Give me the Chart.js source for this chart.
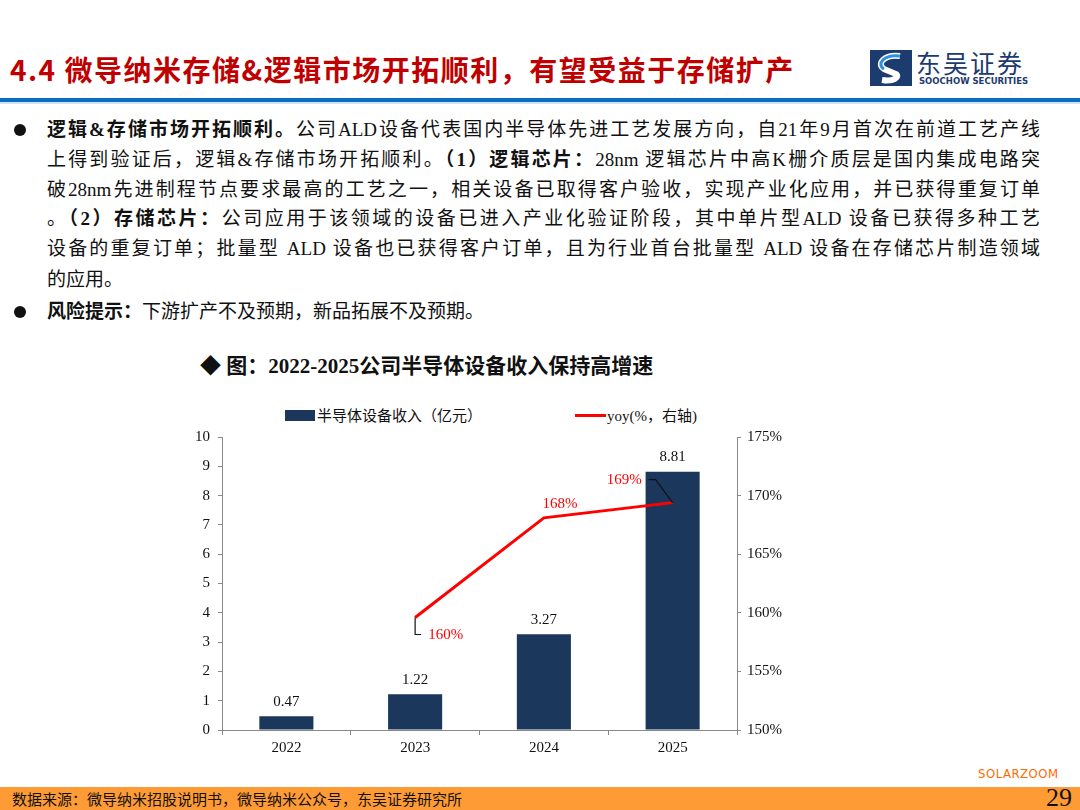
<!DOCTYPE html>
<html>
<head>
  <meta charset="UTF-8">
  <title>微导纳米 半导体设备收入</title>
  <script src="https://cdn.jsdelivr.net/npm/chart.js"></script>
  <style>
    body {
      margin: 0;
      width: 1080px;
      height: 810px;
      position: relative;
      overflow: hidden;
      background: #fff;
      font-family: "Liberation Serif", "Noto Sans CJK SC", serif;
    }
    .abs { position: absolute; }
    #title {
      left: 10px; top: 49px;
      font-family: "Noto Sans CJK SC", sans-serif;
      font-weight: bold;
      font-size: 28px;
      letter-spacing: 1.5px;
      color: #c00000;
      white-space: nowrap;
    }
    #rule {
      left: 0; top: 98px; width: 1080px; height: 4px;
      background: #0a6fc2;
      border-bottom: 2px solid #cfe2f3;
    }
    .line {
      position: absolute;
      left: 47px;
      width: 993px;
      font-size: 19px;
      line-height: 24px;
      color: #111;
      text-align: justify;
      text-align-last: justify;
      white-space: nowrap;
    }
    .line.last { text-align-last: left; }
    .bullet {
      position: absolute; left: 14px;
      width: 12px; height: 12px; border-radius: 50%;
      background: #111;
    }
    b { font-weight: bold; }
    #ctitle {
      left: 200px; top: 349px;
      font-size: 21px; font-weight: bold; color: #111;
      white-space: nowrap;
    }
    .leg { font-size: 15px; color: #111; white-space: nowrap; }
    #footer {
      left: 0; top: 787px; width: 1080px; height: 23px;
      background: #ff9b35;
    }
    #src {
      left: 12px; top: 788px; font-size: 15px; color: #111;
      font-family: "Noto Sans CJK SC", sans-serif;
    }
    #page {
      left: 1046px; top: 783px; font-size: 26px; color: #111;
    }
    #solar {
      left: 978px; top: 766px; font-size: 13px; color: #ff6a00;
      font-family: "DejaVu Sans Condensed", "DejaVu Sans", sans-serif;
      letter-spacing: 0.5px;
    }
    #chartBox { left: 150px; top: 420px; width: 660px; height: 340px; }
  </style>
</head>
<body>

  <div id="title" class="abs">4.4 微导纳米存储&amp;逻辑市场开拓顺利，有望受益于存储扩产</div>

  <svg class="abs" style="left:870px;top:50px" width="42" height="36" viewBox="0 0 42 36">
    <rect x="0" y="0" width="42" height="36" fill="#1c3b6e"/>
    <path d="M30 6 C14 4, 6 14, 14 19 L26 24 C30 27, 24 32, 12 30" stroke="#fff" stroke-width="6" fill="none"/>
    <path d="M30 6 C14 4, 6 14, 14 19" stroke="#2f8fe0" stroke-width="3" fill="none"/>
  </svg>
  <div class="abs" style="left:916px;top:44px;font-family:'Noto Sans CJK SC';font-size:25px;color:#1c3b6e;letter-spacing:2px;">东吴证券</div>
  <div class="abs" style="left:919px;top:76px;font-family:'DejaVu Sans';font-weight:bold;font-size:8.5px;color:#1c3b6e;">SOOCHOW SECURITIES</div>

  <div id="rule" class="abs"></div>

  <div class="bullet" style="top:124px"></div>
  <div class="line" style="top:118px"><b>逻辑&amp;存储市场开拓顺利。</b>公司ALD设备代表国内半导体先进工艺发展方向，自21年9月首次在前道工艺产线</div>
  <div class="line" style="top:148px">上得到验证后，逻辑&amp;存储市场开拓顺利。<b>（1）逻辑芯片：</b>28nm 逻辑芯片中高K栅介质层是国内集成电路突</div>
  <div class="line" style="top:178px">破28nm先进制程节点要求最高的工艺之一，相关设备已取得客户验收，实现产业化应用，并已获得重复订单</div>
  <div class="line" style="top:207px">。<b>（2）存储芯片：</b>公司应用于该领域的设备已进入产业化验证阶段，其中单片型ALD 设备已获得多种工艺</div>
  <div class="line" style="top:237px">设备的重复订单；批量型 ALD 设备也已获得客户订单，且为行业首台批量型 ALD 设备在存储芯片制造领域</div>
  <div class="line last" style="top:268px">的应用。</div>
  <div class="bullet" style="top:306px"></div>
  <div class="line last" style="top:300px"><b>风险提示：</b>下游扩产不及预期，新品拓展不及预期。</div>

  <div id="ctitle" class="abs">◆ 图：2022-2025公司半导体设备收入保持高增速</div>

  <div class="abs" style="left:285px;top:410px;width:30px;height:11px;background:#1b375c"></div>
  <div class="abs leg" style="left:317px;top:404px">半导体设备收入（亿元）</div>
  <div class="abs" style="left:575px;top:414px;width:31px;height:3px;background:#ff0000"></div>
  <div class="abs leg" style="left:607px;top:404px">yoy(%，右轴)</div>

  <div id="chartBox" class="abs"><canvas id="myChart"></canvas></div>

  <div id="solar" class="abs">SOLARZOOM</div>
  <div id="footer" class="abs"></div>
  <div id="src" class="abs">数据来源：微导纳米招股说明书，微导纳米公众号，东吴证券研究所</div>
  <div id="page" class="abs">29</div>

  <script>
    const years = ['2022', '2023', '2024', '2025'];
    const revenue = [0.47, 1.22, 3.27, 8.81];
    const yoy = [null, 159.6, 168.1, 169.4];
    const yoyLabels = ['', '160%', '168%', '169%'];
    const leftTicks = [0, 1, 2, 3, 4, 5, 6, 7, 8, 9, 10];
    const rightTicks = [150, 155, 160, 165, 170, 175];

    const serif = '"Liberation Serif", "Noto Sans CJK SC", serif';

    // value labels drawn by hand, datalabels plugin is not available offline
    const valueLabels = {
      id: 'valueLabels',
      afterDatasetsDraw(chart) {
        const ctx = chart.ctx;
        ctx.save();
        ctx.font = '15px ' + serif;
        ctx.textAlign = 'center';
        ctx.textBaseline = 'bottom';
        ctx.fillStyle = '#111';
        chart.getDatasetMeta(0).data.forEach((bar, i) => {
          ctx.fillText(revenue[i].toFixed(2), bar.x, bar.y - 7);
        });

        const pts = chart.getDatasetMeta(1).data;
        ctx.fillStyle = '#ff0000';
        ctx.strokeStyle = '#111';
        ctx.lineWidth = 1.2;
        // 2023: leader down and to the right
        let p = pts[1];
        ctx.beginPath();
        ctx.moveTo(p.x, p.y);
        ctx.lineTo(p.x, p.y + 17);
        ctx.lineTo(p.x + 6, p.y + 17);
        ctx.stroke();
        ctx.textAlign = 'left';
        ctx.textBaseline = 'middle';
        ctx.fillText(yoyLabels[1], p.x + 13, p.y + 18);
        // 2024: plain label above
        p = pts[2];
        ctx.textAlign = 'center';
        ctx.fillText(yoyLabels[2], p.x + 16, p.y - 14);
        // 2025: leader up and to the left
        p = pts[3];
        ctx.beginPath();
        ctx.moveTo(p.x, p.y);
        ctx.lineTo(p.x - 17, p.y - 23);
        ctx.lineTo(p.x - 24, p.y - 23);
        ctx.stroke();
        ctx.textAlign = 'right';
        ctx.fillText(yoyLabels[3], p.x - 31, p.y - 23);
        ctx.restore();
      }
    };

    new Chart(document.getElementById('myChart'), {
      type: 'bar',
      data: {
        labels: years,
        datasets: [{
          type: 'bar',
          data: revenue,
          backgroundColor: '#1b375c',
          barPercentage: 0.42,
          categoryPercentage: 1,
          yAxisID: 'y',
          order: 2
        }, {
          type: 'line',
          data: yoy,
          borderColor: '#ff0000',
          borderWidth: 3,
          pointRadius: 0,
          tension: 0,
          yAxisID: 'y1',
          order: 1
        }]
      },
      options: {
        responsive: true,
        maintainAspectRatio: false,
        animation: false,
        layout: { padding: { top: 10, bottom: 0 } },
        plugins: {
          legend: { display: false },
          tooltip: { enabled: false }
        },
        scales: {
          x: {
            grid: { display: true, drawOnChartArea: false, color: '#888', tickLength: 5 },
            border: { color: '#888' },
            ticks: { color: '#111', font: { family: serif, size: 15 }, padding: 4 },
            afterFit(scale) { scale.height = 30; }
          },
          y: {
            position: 'left',
            min: 0, max: 10,
            afterBuildTicks(scale) { scale.ticks = leftTicks.map(v => ({ value: v })); },
            grid: { drawOnChartArea: false, color: '#888', tickLength: 4 },
            border: { color: '#888' },
            ticks: { color: '#111', font: { family: serif, size: 15 }, padding: 8 },
            afterFit(scale) { scale.width = 72; }
          },
          y1: {
            position: 'right',
            min: 150, max: 175,
            afterBuildTicks(scale) { scale.ticks = rightTicks.map(v => ({ value: v })); },
            grid: { drawOnChartArea: false, color: '#888', tickLength: 4 },
            border: { color: '#888' },
            ticks: {
              color: '#111', font: { family: serif, size: 15 }, padding: 6,
              callback: v => v + '%'
            },
            afterFit(scale) { scale.width = 73; }
          }
        }
      },
      plugins: [valueLabels]
    });
  </script>

</body>
</html>
